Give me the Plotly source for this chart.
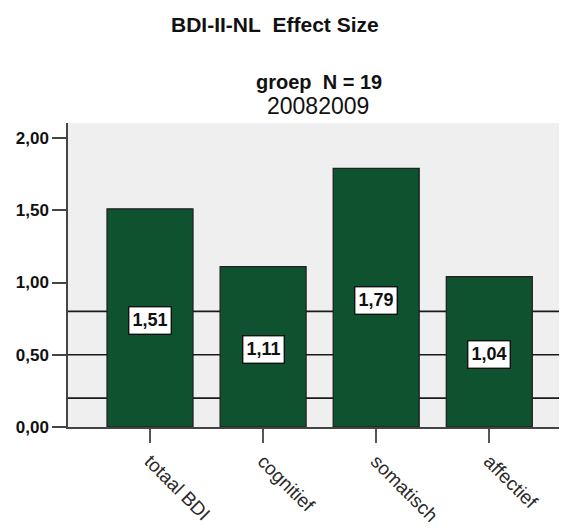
import plotly.graph_objects as go

categories = ["totaal BDI", "cognitief", "somatisch", "affectief"]
effect_sizes = [1.51, 1.11, 1.79, 1.04]
reference_levels = [0.2, 0.5, 0.8]
y_ticks = [0.0, 0.5, 1.0, 1.5, 2.0]
title_text = "BDI-II-NL\u00a0\u00a0Effect Size"
subtitle_group = "groep\u00a0\u00a0N = 19"
subtitle_year = "20082009"

FONT = "Liberation Sans, Arial, sans-serif"
OFF = 8  # default page body margin
W, H = 567 - OFF, 532 - OFF
ML, MR, MT, MB = 68 - OFF, 0, 123 - OFF, 532 - 427
ph = H - MT - MB
pw = W - ML - MR


def py(page_y):
    return 1 + (MT + OFF - page_y) / ph


def pxx(page_x):
    return (page_x - ML - OFF) / pw


def fmt(v):
    return f"{v:.2f}".replace(".", ",")


fig = go.Figure()
fig.add_trace(go.Bar(
    x=categories, y=effect_sizes, width=0.76,
    marker=dict(color="#0f5230", line=dict(color="#222222", width=1.3)),
    hoverinfo="skip",
))

for lv in reference_levels:
    fig.add_shape(type="line", xref="paper", yref="y", x0=0, x1=1, y0=lv, y1=lv,
                  line=dict(color="#1a1a1a", width=1.6), layer="below")

for c, v in zip(categories, effect_sizes):
    fig.add_annotation(x=c, y=v / 2, yshift=-3, text="<b>" + fmt(v) + "</b>",
                       showarrow=False, bgcolor="white", bordercolor="#111111",
                       borderwidth=1.4, borderpad=3,
                       font=dict(family=FONT, size=18, color="#111111"))

for txt, x, y, size in [("<b>" + title_text + "</b>", 275, 25, 21),
                        ("<b>" + subtitle_group + "</b>", 319, 82, 20),
                        (subtitle_year, 318, 106, 23)]:
    fig.add_annotation(xref="paper", yref="paper", x=pxx(x), y=py(y), text=txt,
                       xanchor="center", yanchor="middle", showarrow=False,
                       font=dict(family=FONT, size=size, color="#111111"))

fig.update_layout(
    width=W, height=H,
    margin=dict(l=ML, r=MR, t=MT, b=MB, pad=0, autoexpand=False),
    paper_bgcolor="white", plot_bgcolor="#efefef",
    showlegend=False,
)
fig.update_xaxes(
    range=[-0.725, 3.687], showgrid=False, tickangle=45, automargin=False,
    ticks="outside", ticklen=14, tickcolor="#555555", tickwidth=1.5,
    showline=True, linecolor="#444444", linewidth=1.5, mirror=False,
    tickfont=dict(family=FONT, size=19, color="#2a2a2a"),
)
fig.update_yaxes(
    range=[0, 2.104], tickvals=y_ticks, ticktext=["<b>" + fmt(t) + "</b>" for t in y_ticks],
    showgrid=False, zeroline=False, automargin=False,
    ticks="outside", ticklen=14, tickcolor="#444444", tickwidth=1.5,
    showline=True, linecolor="#444444", linewidth=1.5, mirror=True,
    tickfont=dict(family=FONT, size=17, color="#111111"),
)

fig.write_html("out.html")
